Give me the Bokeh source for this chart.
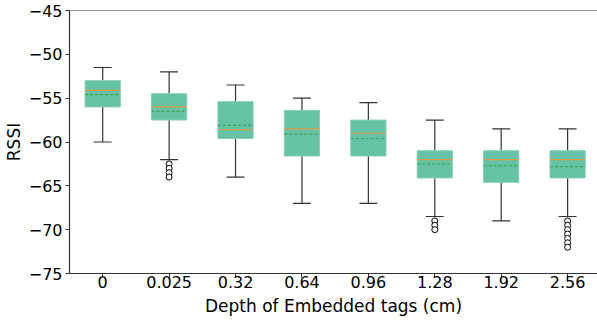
from bokeh.plotting import figure
from bokeh.models import Range1d, Span, ColumnDataSource, FixedTicker
from bokeh.embed import file_html
from bokeh.resources import INLINE

categories = ["0", "0.025", "0.32", "0.64", "0.96", "1.28", "1.92", "2.56"]
q1 = [-56.0, -57.5, -59.6, -61.6, -61.6, -64.1, -64.6, -64.1]
q3 = [-53.0, -54.5, -55.4, -56.4, -57.5, -61.0, -61.0, -61.0]
medians = [-54.1, -56.0, -58.6, -58.5, -59.0, -62.0, -62.0, -62.0]
means = [-54.6, -56.5, -58.1, -59.1, -59.6, -62.5, -62.7, -62.8]
whisker_lo = [-60.0, -62.0, -64.0, -67.0, -67.0, -68.5, -69.0, -68.5]
whisker_hi = [-51.5, -52.0, -53.5, -55.0, -55.5, -57.5, -58.5, -58.5]
outliers = [
    [],
    [-62.5, -63.0, -63.5, -64.0],
    [],
    [],
    [],
    [-69.0, -69.5, -70.0],
    [],
    [-69.0, -69.5, -70.0, -70.5, -71.0, -71.5, -72.0],
]
y_ticks = [-75, -70, -65, -60, -55, -50, -45]
x_label = "Depth of Embedded tags (cm)"
y_label = "RSSI"

pos = [i + 1 for i in range(len(categories))]
bw = 0.53
cw = 0.27
src = ColumnDataSource(dict(
    x=pos,
    l=[p - bw / 2 for p in pos], r=[p + bw / 2 for p in pos],
    cl=[p - cw / 2 for p in pos], cr=[p + cw / 2 for p in pos],
    q1=q1, q3=q3, med=medians, mean=means, lo=whisker_lo, hi=whisker_hi,
))
ox, oy = [], []
for p, vals in zip(pos, outliers):
    for v in vals:
        ox.append(p)
        oy.append(v)

xr = Range1d(0.5, 8.45)
p = figure(width=597, height=321, output_backend="svg", toolbar_location=None,
           x_range=xr, y_range=Range1d(y_ticks[0], y_ticks[-1]),
           min_border_top=10, min_border_right=0, min_border_left=0, min_border_bottom=48)
p.outline_line_color = None
p.grid.grid_line_color = None
p.background_fill_color = "white"

# whiskers
p.segment(x0="x", x1="x", y0="q1", y1="lo", source=src, line_color="#333333", line_width=1.2)
p.segment(x0="x", x1="x", y0="q3", y1="hi", source=src, line_color="#333333", line_width=1.2)
p.segment(x0="cl", x1="cr", y0="lo", y1="lo", source=src, line_color="#333333", line_width=1.2)
p.segment(x0="cl", x1="cr", y0="hi", y1="hi", source=src, line_color="#333333", line_width=1.2)
# boxes
p.quad(left="l", right="r", bottom="q1", top="q3", source=src,
       fill_color="#66c2a5", line_color="#85d0b7", line_width=1)
# median and mean
p.segment(x0="l", x1="r", y0="med", y1="med", source=src, line_color="#dc9a45", line_width=1.2)
p.segment(x0="l", x1="r", y0="mean", y1="mean", source=src, line_color="#3aa655",
          line_width=1.2, line_dash="3 2")
# outliers
p.scatter(ox, oy, marker="circle", size=6, fill_color="white", line_color="black", line_width=1)

p.add_layout(Span(location=y_ticks[-1], dimension="width", line_color="#333333", line_width=1.2))

p.xaxis.ticker = FixedTicker(ticks=pos)
p.xaxis.major_label_overrides = {pp: c for pp, c in zip(pos, categories)}
p.yaxis.ticker = FixedTicker(ticks=y_ticks)
p.yaxis.major_label_overrides = {t: ("\u2212" + str(abs(t)) if t < 0 else str(t)) for t in y_ticks}
p.xaxis.axis_label = x_label
p.yaxis.axis_label = y_label
for ax in (p.xaxis, p.yaxis):
    ax.axis_line_color = "#333333"
    ax.axis_line_width = 1.2
    ax.major_tick_line_color = "#333333"
    ax.major_tick_out = 4
    ax.major_tick_in = 0
    ax.minor_tick_line_color = None
    ax.major_label_text_font = "DejaVu Sans"
    ax.major_label_text_font_size = "16px"
    ax.major_label_text_color = "black"
    ax.axis_label_text_font = "DejaVu Sans"
    ax.axis_label_text_font_size = "17px"
    ax.axis_label_text_font_style = "normal"
    ax.axis_label_text_color = "black"
p.xaxis.major_label_standoff = -2
p.xaxis.axis_label_standoff = 5
p.yaxis.major_label_standoff = 3
p.yaxis.axis_label_standoff = 2

open("out.html", "w").write(file_html(p, INLINE))
